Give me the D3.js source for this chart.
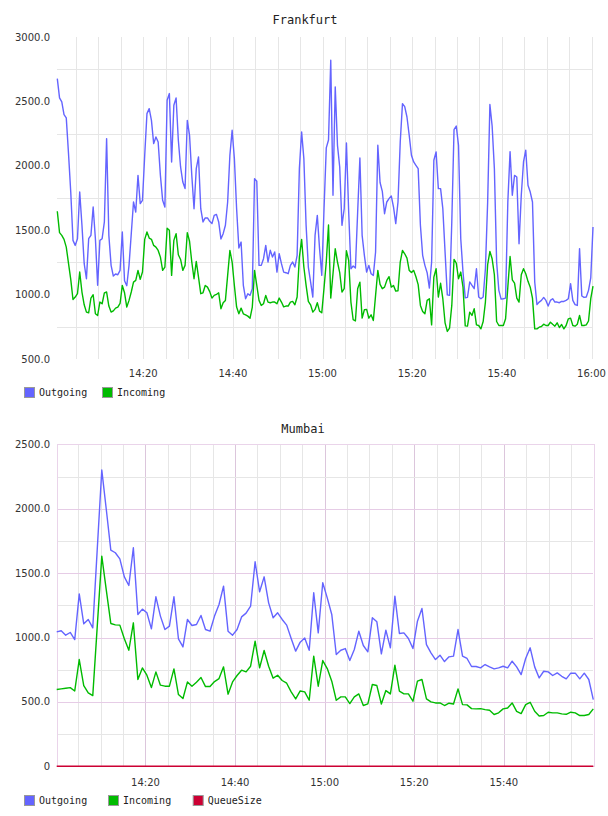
<!DOCTYPE html>
<html>
<head>
<meta charset="utf-8">
<script src="https://cdn.jsdelivr.net/npm/d3@7"></script>
<style>
  body { margin: 0; background: #fff; overflow: hidden; }
  svg { display: block; }
  .tick-label { font-family: 'DejaVu Sans', sans-serif; font-size: 10px; fill: #333; }
  .title { font-family: 'DejaVu Sans Mono', monospace; font-size: 12px; fill: #222; }
  .legend-label { font-family: 'DejaVu Sans Mono', monospace; font-size: 10px; fill: #222; }
</style>
</head>
<body>
<div id="chart"></div>
<script>
// Frankfurt: one sample every 30 s
const frankfurtStart = '14:00:50';
const frankfurtStepSec = 30;
const frankfurtOutgoing = [
  2677,2527,2496,2398,2372,2095,1797,1421,1382,1434,
  1797,1538,1240,1123,1434,1460,1680,1434,1072,1421,
  1434,1564,2211,1460,1227,1144,1160,1154,1188,1486,
  1108,1069,1227,1473,1719,1641,1926,1706,1732,2082,
  2405,2444,2353,2172,2224,2185,1926,1732,1680,2509,
  2561,2030,2470,2527,2198,1991,1874,1823,2353,2237,
  1926,1667,1978,2069,1667,1564,1595,1595,1569,1551,
  1615,1623,1564,1432,1473,1538,1719,2082,2276,2056,
  1667,1362,1408,1072,968,1007,994,1046,1900,1880,
  1227,1227,1279,1382,1253,1344,1292,1331,1175,1318,
  1240,1175,1170,1162,1227,1253,1214,1305,1978,2263,
  2056,1538,1214,1098,981,1460,1615,1357,1149,1667,
  2139,2200,2820,1771,2613,2159,1991,1538,1667,2177,
  1641,1201,1222,1206,1640,2060,1460,1305,1175,1227,
  1162,1149,1331,2160,1870,1802,1628,1719,1745,1766,
  1680,1551,1719,2185,2483,2460,2379,2237,2082,2030,
  2004,1978,1538,1305,1227,1170,1051,1253,2043,2108,
  1823,1823,1667,1331,998,994,1564,2281,2309,2159,
  1434,1175,975,978,1098,1072,1046,1201,981,968,
  981,1201,1719,2476,2309,1978,1253,1033,965,968,
  973,1719,2110,1771,1926,1913,1395,1771,2030,2121,
  1849,1796,1719,1098,922,942,955,978,955,911,
  955,968,942,942,937,947,947,955,968,1085,
  955,922,916,1357,989,978,981,1033,1129,1525
];
const frankfurtIncoming = [
  1647,1481,1460,1429,1369,1243,1118,962,981,1007,
  1175,1020,921,864,859,973,999,851,838,942,
  929,1014,1020,911,864,874,895,903,931,1071,
  1014,903,955,1020,1097,1110,1188,1118,1175,1429,
  1486,1439,1429,1382,1369,1343,1291,1188,1214,1515,
  1499,1149,1421,1473,1309,1273,1188,1227,1481,1414,
  1253,1123,1258,1136,1007,1014,1071,1058,1023,973,
  994,1001,1014,890,937,955,1149,1343,1253,1071,
  903,851,895,851,843,833,817,903,1188,1071,
  955,916,929,994,942,937,942,942,929,973,
  942,905,911,911,942,947,921,981,1291,1429,
  1214,1071,947,921,864,885,937,872,859,1050,
  1253,1540,973,1162,1356,1253,1170,1020,1046,1340,
  1266,942,805,795,1046,1097,817,882,885,817,
  843,799,994,1188,1079,1046,1058,1110,1139,1058,
  1071,1027,1030,1253,1343,1317,1283,1188,1172,1188,
  1139,1077,916,869,851,955,968,765,1136,1201,
  981,1088,968,781,714,740,916,1273,1245,1123,
  1175,1058,757,755,864,838,890,765,760,734,
  791,942,1232,1335,1278,1154,791,760,760,760,
  812,1058,1296,1115,1089,973,942,1154,1201,1162,
  1103,1058,973,734,734,747,752,770,760,760,
  786,770,755,781,744,768,734,760,812,817,
  760,755,770,838,760,760,765,795,968,1066
];

// Mumbai: roughly one sample per minute
const mumbaiStart = '14:00:11';
const mumbaiStepSec = 60.4;
const mumbaiOutgoing = [
  1044,1052,1018,1039,984,1339,1106,1140,1075,1690,
  2300,1994,1678,1658,1611,1471,1404,1697,1179,1220,
  1192,1067,1316,1166,1062,1088,1316,990,927,1140,
  1093,1101,1171,1062,1049,1166,1256,1399,1049,1018,
  1062,1160,1189,1243,1588,1355,1471,1269,1153,1192,
  1140,1096,992,894,964,997,901,1347,1036,1425,
  1308,1179,868,901,914,821,907,1049,938,889,
  1153,1122,873,1057,920,1321,1031,1036,992,914,
  1127,1225,945,881,829,863,813,850,855,1062,
  855,837,775,775,764,790,772,756,764,777,
  764,816,772,712,837,920,772,686,738,733,
  705,725,699,679,723,723,679,723,674,518
];
const mumbaiIncoming = [
  596,601,606,611,585,829,627,570,549,1090,
  1632,1368,1109,1098,1096,990,901,1114,674,764,
  707,611,733,630,622,622,756,557,526,655,
  622,653,689,619,619,658,681,772,560,655,
  705,746,733,777,971,764,899,777,684,707,
  666,645,578,523,585,578,513,855,622,821,
  759,661,513,539,539,487,539,562,472,484,
  635,627,484,588,562,785,583,562,562,505,
  661,674,523,500,492,492,472,490,484,601,
  479,477,448,446,448,440,435,402,415,446,
  453,492,427,409,479,497,427,391,394,420,
  415,415,407,404,420,415,394,394,402,446
];
const mumbaiQueueSize = [
  0,0,0,0,0,0,0,0,0,0, 0,0,0,0,0,0,0,0,0,0,
  0,0,0,0,0,0,0,0,0,0, 0,0,0,0,0,0,0,0,0,0,
  0,0,0,0,0,0,0,0,0,0, 0,0,0,0,0,0,0,0,0,0,
  0,0,0,0,0,0,0,0,0,0, 0,0,0,0,0,0,0,0,0,0,
  0,0,0,0,0,0,0,0,0,0, 0,0,0,0,0,0,0,0,0,0,
  0,0,0,0,0,0,0,0,0,0, 0,0,0,0,0,0,0,0,0,0
];

const colors = { Outgoing: '#6464ff', Incoming: '#00bb00', QueueSize: '#cc0033' };

const parseTime = d3.timeParse('%H:%M:%S');
function timeStamps(start, stepSec, n) {
  const t0 = parseTime(start).getTime();
  return d3.range(n).map(i => new Date(t0 + i * stepSec * 1000));
}

const svg = d3.select('#chart').append('svg')
    .attr('width', 608)
    .attr('height', 816);

function drawChart(cfg) {
  const times = timeStamps(cfg.start, cfg.step, cfg.series[0].values.length);

  const x = d3.scaleTime()
      .domain(d3.extent(times))
      .range([cfg.left, cfg.right]);
  const y = d3.scaleLinear()
      .domain(cfg.yDomain)
      .range([cfg.bottom, cfg.top]);

  const g = svg.append('g');
  const grid = g.append('g').attr('shape-rendering', 'crispEdges');
  const snap = v => Math.round(v) + 0.5;

  // vertical grid, every 5 minutes
  const fiveMin = x.ticks(d3.timeMinute.every(5));
  grid.selectAll('.vgrid')
      .data(fiveMin)
    .join('line')
      .attr('class', 'vgrid')
      .attr('x1', d => snap(x(d))).attr('x2', d => snap(x(d)))
      .attr('y1', cfg.top).attr('y2', cfg.bottom)
      .attr('stroke', d => (cfg.framed && d.getMinutes() % 20 === 0) ? '#dcc6dc' : '#e6e6e6');

  // horizontal grid, every 250
  const hVals = d3.range(cfg.yDomain[0] + 250, cfg.yDomain[1], 250)
      .filter(v => cfg.framed || v % 500 !== 0);
  grid.selectAll('.hgrid')
      .data(hVals)
    .join('line')
      .attr('class', 'hgrid')
      .attr('x1', cfg.left).attr('x2', cfg.right)
      .attr('y1', d => snap(y(d))).attr('y2', d => snap(y(d)))
      .attr('stroke', d => (cfg.framed && d % 500 === 0) ? '#e6cce6' : '#e6e6e6');

  if (cfg.framed) {
    grid.append('rect')
        .attr('x', snap(cfg.left)).attr('y', snap(cfg.top))
        .attr('width', Math.round(cfg.right - cfg.left))
        .attr('height', Math.round(cfg.bottom - cfg.top))
        .attr('fill', 'none')
        .attr('stroke', '#ead4ea');
  }

  // y labels
  const fmt = d3.format('.1f');
  g.selectAll('.ylab')
      .data(d3.range(cfg.yDomain[0], cfg.yDomain[1] + 1, 500))
    .join('text')
      .attr('class', 'tick-label')
      .attr('x', 50)
      .attr('y', d => y(d))
      .attr('dy', '0.35em')
      .attr('text-anchor', 'end')
      .text(d => d === 0 ? '0' : fmt(d));

  // x labels
  g.selectAll('.xlab')
      .data(x.ticks(d3.timeMinute.every(20)))
    .join('text')
      .attr('class', 'tick-label')
      .attr('x', d => x(d))
      .attr('y', cfg.xLabelY)
      .attr('dy', '0.35em')
      .attr('text-anchor', 'middle')
      .text(d => d3.timeFormat('%H:%M')(d));

  // series
  const line = d3.line()
      .x((d, i) => x(times[i]))
      .y(d => y(d));

  g.selectAll('.series')
      .data(cfg.series)
    .join('path')
      .attr('class', 'series')
      .attr('d', s => line(s.values))
      .attr('fill', 'none')
      .attr('stroke', s => colors[s.name])
      .attr('stroke-width', 1.4)
      .attr('stroke-linejoin', 'round');

  // title
  g.append('text')
      .attr('class', 'title')
      .attr('x', cfg.titleX)
      .attr('y', cfg.titleY)
      .attr('dy', '0.35em')
      .attr('text-anchor', 'middle')
      .text(cfg.title);

  // legend
  const legend = g.selectAll('.legend-item')
      .data(cfg.series)
    .join('g')
      .attr('class', 'legend-item')
      .attr('transform', (s, i) => `translate(${cfg.legendX[i]},${cfg.legendY})`);
  legend.append('rect')
      .attr('x', 0.5).attr('y', -4.5)
      .attr('width', 10).attr('height', 10)
      .attr('fill', s => colors[s.name])
      .attr('stroke', '#999');
  legend.append('text')
      .attr('class', 'legend-label')
      .attr('x', 15)
      .attr('y', 0.5)
      .attr('dy', '0.35em')
      .text(s => s.name);
}

drawChart({
  title: 'Frankfurt', titleX: 305, titleY: 20,
  start: frankfurtStart, step: frankfurtStepSec,
  left: 57.3, right: 593, top: 37, bottom: 359,
  yDomain: [500, 3000],
  xLabelY: 373,
  legendX: [24, 102], legendY: 392,
  framed: false,
  series: [
    { name: 'Outgoing', values: frankfurtOutgoing },
    { name: 'Incoming', values: frankfurtIncoming }
  ]
});

drawChart({
  title: 'Mumbai', titleX: 303, titleY: 429,
  start: mumbaiStart, step: mumbaiStepSec,
  left: 56.7, right: 593.3, top: 444.3, bottom: 766.3,
  yDomain: [0, 2500],
  xLabelY: 782,
  legendX: [24, 108, 192.7], legendY: 800,
  framed: true,
  series: [
    { name: 'Outgoing', values: mumbaiOutgoing },
    { name: 'Incoming', values: mumbaiIncoming },
    { name: 'QueueSize', values: mumbaiQueueSize }
  ]
});
</script>
</body>
</html>
